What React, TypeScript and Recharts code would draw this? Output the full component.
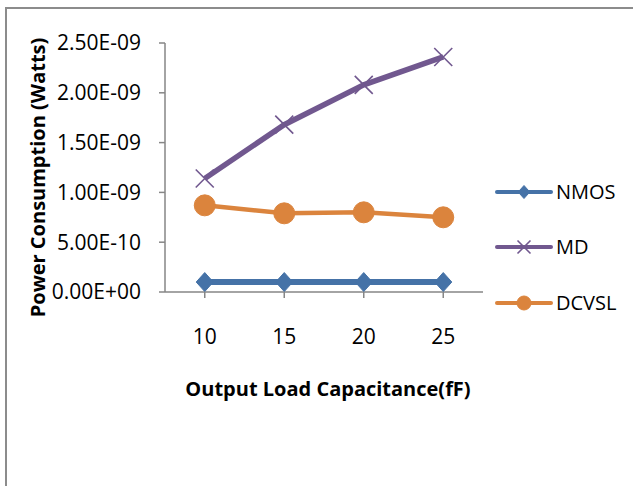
import React from "react";
import { LineChart, Line, XAxis, YAxis, Legend, Label } from "recharts";

const categories = ["10", "15", "20", "25"];
const nmos = [1.0e-10, 1.0e-10, 1.0e-10, 1.0e-10];
const md = [1.14e-9, 1.68e-9, 2.08e-9, 2.36e-9];
const dcvsl = [0.87e-9, 0.79e-9, 0.8e-9, 0.75e-9];
const yTicks = [0, 5e-10, 1e-9, 1.5e-9, 2e-9, 2.5e-9];
const seriesOrder = ["NMOS", "MD", "DCVSL"];

const data = categories.map((c, i) => ({ cap: c, NMOS: nmos[i], MD: md[i], DCVSL: dcvsl[i] }));

const FONT = "'Open Sans', sans-serif";
const AXIS = "#868686";
const COLORS: Record<string, string> = { NMOS: "#4572A7", MD: "#71588F", DCVSL: "#DB843D" };

function fmt(v: number): string {
  if (v === 0) return "0.00E+00";
  let exp = Math.floor(Math.log10(Math.abs(v)));
  let mant = v / Math.pow(10, exp);
  if (mant >= 9.995) { mant /= 10; exp += 1; }
  if (mant < 0.9995) { mant *= 10; exp -= 1; }
  const sign = exp < 0 ? "-" : "+";
  const e = String(Math.abs(exp)).padStart(2, "0");
  return `${mant.toFixed(2)}E${sign}${e}`;
}

function Marker({ kind, cx, cy, size }: { kind: string; cx: number; cy: number; size: number }) {
  const c = COLORS[kind];
  if (kind === "NMOS") {
    const h = size;
    return <path d={`M${cx},${cy - h} L${cx + h * 0.9},${cy} L${cx},${cy + h} L${cx - h * 0.9},${cy} Z`} fill={c} stroke={c} strokeWidth={1} />;
  }
  if (kind === "MD") {
    const h = size;
    return (
      <path d={`M${cx - h},${cy - h} L${cx + h},${cy + h} M${cx - h},${cy + h} L${cx + h},${cy - h}`} stroke={c} strokeWidth={1.6} fill="none" />
    );
  }
  return <circle cx={cx} cy={cy} r={size} fill={c} stroke={c} strokeWidth={1} />;
}

const makeDot = (kind: string, size: number) => (props: any) => {
  const { cx, cy, index } = props;
  if (cx == null || cy == null) return <g key={`${kind}-${index}`} />;
  return (
    <g key={`${kind}-${index}`}>
      <Marker kind={kind} cx={cx} cy={cy} size={size} />
    </g>
  );
};

const legendSizes: Record<string, number> = { NMOS: 6.5, MD: 6.5, DCVSL: 7 };

const LegendContent = (props: any) => {
  const payload = [...(props.payload || [])].sort(
    (a: any, b: any) => seriesOrder.indexOf(String(a.value)) - seriesOrder.indexOf(String(b.value))
  );
  return (
    <div style={{ fontFamily: FONT, fontSize: 20, color: "#000" }}>
      {payload.map((p: any) => {
        const kind = String(p.value);
        return (
          <div key={kind} style={{ height: 55.5, display: "flex", alignItems: "center" }}>
            <svg width={60} height={24} style={{ display: "block" }}>
              <line x1={3} y1={12} x2={57} y2={12} stroke={COLORS[kind]} strokeWidth={4} strokeLinecap="round" />
              <Marker kind={kind} cx={30} cy={12} size={legendSizes[kind]} />
            </svg>
            <span style={{ marginLeft: 2, lineHeight: "24px" }}>{kind}</span>
          </div>
        );
      })}
    </div>
  );
};

const YTitle = (props: any) => {
  const vb = props.viewBox || { x: 0, y: 0, width: 0, height: 0 };
  const x = vb.x + 37;
  const y = vb.y + vb.height / 2 + 10;
  return (
    <text x={x} y={y} transform={`rotate(-90, ${x}, ${y})`} textAnchor="middle" dominantBaseline="central" fontFamily={FONT} fontSize={20} fontWeight="bold" fill="#000">
      Power Consumption (Watts)
    </text>
  );
};

const XTitle = (props: any) => {
  const vb = props.viewBox || { x: 0, y: 0, width: 0, height: 0 };
  const x = vb.x + vb.width / 2 + 4;
  const y = vb.y + 104;
  return (
    <text x={x} y={y} textAnchor="middle" fontFamily={FONT} fontSize={20} fontWeight="bold" fill="#000">
      Output Load Capacitance(fF)
    </text>
  );
};

export default function App() {
  return (
    <div style={{ position: "absolute", left: 0, top: 0, width: 633, height: 486, overflow: "hidden", background: "#fff" }}>
      <div style={{ position: "absolute", left: 5, top: 7, width: 700, height: 600, borderLeft: "2px solid #8c8c8c", borderTop: "2px solid #8c8c8c" }} />
      <div style={{ position: "absolute", left: 0, top: 0 }}>
        <LineChart width={633} height={486} data={data} margin={{ top: 43, right: 150, left: 0, bottom: 0 }}>
          <XAxis
            dataKey="cap"
            scale="band"
            height={194}
            stroke={AXIS}
            strokeWidth={1.5}
            tickSize={6}
            tickMargin={31}
            tick={{ fill: "#000", fontFamily: FONT, fontSize: 21 }}
            tickLine={{ stroke: AXIS, strokeWidth: 1.5 }}
          >
            <Label content={<XTitle />} />
          </XAxis>
          <YAxis
            width={165}
            domain={[0, 2.5e-9]}
            ticks={yTicks}
            tickFormatter={fmt}
            stroke={AXIS}
            strokeWidth={1.5}
            tickSize={6}
            tickMargin={18}
            tick={{ fill: "#000", fontFamily: FONT, fontSize: 21 }}
            tickLine={{ stroke: AXIS, strokeWidth: 1.5 }}
            allowDataOverflow
          >
            <Label content={<YTitle />} />
          </YAxis>
          <Legend
            layout="horizontal"
            verticalAlign="middle"
            align="center"
            content={<LegendContent />}
            wrapperStyle={{ left: 494, top: 164, width: 139 }}
          />
          <Line dataKey="NMOS" stroke={COLORS.NMOS} strokeWidth={6} dot={makeDot("NMOS", 9.5)} isAnimationActive={false} />
          <Line dataKey="MD" stroke={COLORS.MD} strokeWidth={5.5} dot={makeDot("MD", 9)} isAnimationActive={false} />
          <Line dataKey="DCVSL" stroke={COLORS.DCVSL} strokeWidth={4.5} dot={makeDot("DCVSL", 10.5)} isAnimationActive={false} />
        </LineChart>
      </div>
    </div>
  );
}
